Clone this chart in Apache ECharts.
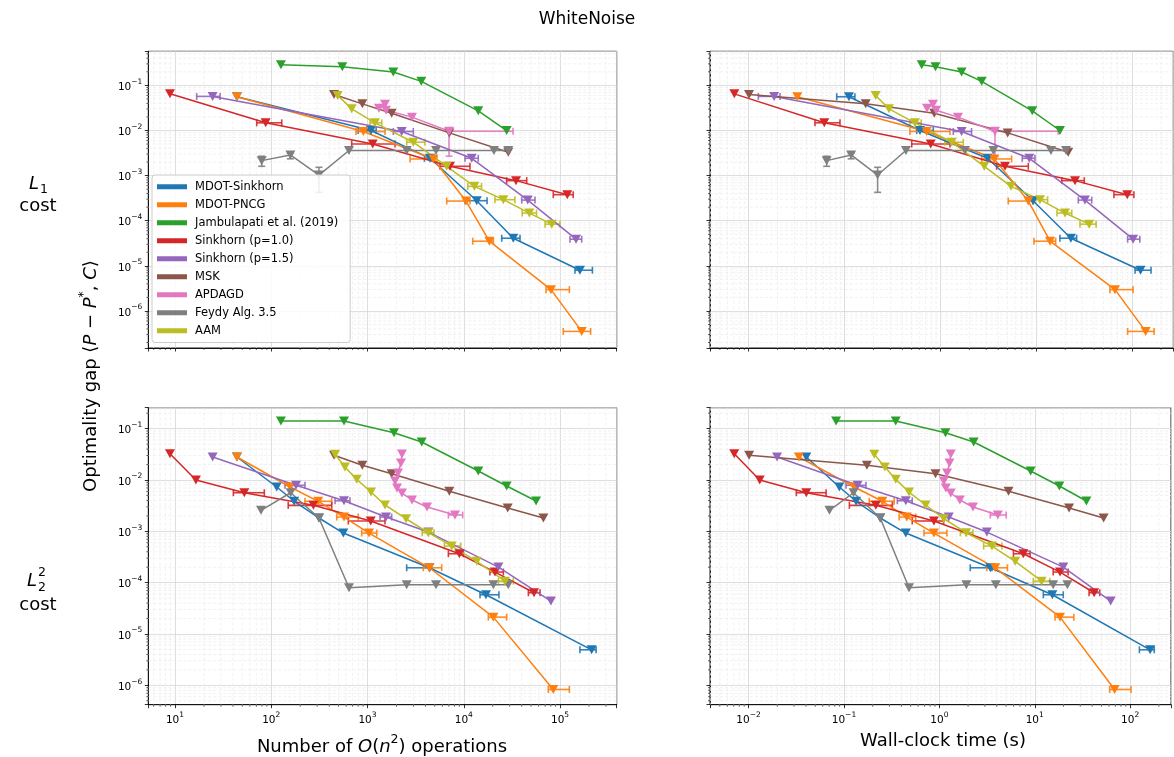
<!DOCTYPE html>
<html><head><meta charset="utf-8">
<script src="https://cdn.jsdelivr.net/npm/echarts@6/dist/echarts.min.js"></script>
<style>html,body{margin:0;padding:0;background:#fff}#c{width:1174px;height:757px}</style>
</head><body><div id="c"></div>
<script>
// ---------------- series meta ----------------
const seriesNames = ['MDOT-Sinkhorn','MDOT-PNCG','Jambulapati et al. (2019)','Sinkhorn (p=1.0)','Sinkhorn (p=1.5)','MSK','APDAGD','Feydy Alg. 3.5','AAM'];
const seriesColors = ['#1f77b4','#ff7f0e','#2ca02c','#d62728','#9467bd','#8c564b','#e377c2','#7f7f7f','#bcbd22'];

// ---------------- L1 cost: optimality gap (shared by both top panels) ----------------
const l1Gap_mdotSinkhorn = [0.056, 0.0100, 0.00242, 2.78e-4, 4.1e-5, 8.0e-6];
const l1Gap_mdotPNCG     = [0.056, 0.0095, 0.00234, 2.73e-4, 3.52e-5, 2.97e-6, 3.52e-7];
const l1Gap_jambulapati  = [0.287, 0.259, 0.198, 0.123, 0.0273, 0.0100];
const l1Gap_sinkhorn10   = [0.065, 0.0148, 0.00503, 0.00161, 7.74e-4, 3.78e-4];
const l1Gap_sinkhorn15   = [0.057, 0.0095, 0.00242, 2.87e-4, 3.9e-5];
const l1Gap_msk          = [0.063, 0.039, 0.0242, 0.00885, 0.0033];
const l1Gap_apdagd       = [0.0313, 0.0384, 0.0282, 0.0198, 0.00965];
const l1Gap_feydy        = [0.00215, 0.00287, 0.00103, 0.0036, 0.0036, 0.0036, 0.0036, 0.0036];
const l1Gap_aam          = [0.060, 0.0302, 0.0148, 0.0055, 0.00161, 5.78e-4, 2.93e-4, 1.48e-4, 8.4e-5];

// L1: number of O(n^2) operations
const l1Ops_mdotSinkhorn = [44, 1087, 4457, 13650, 32700, 161000];
const l1Ops_mdotPNCG     = [44, 904, 4830, 10540, 18440, 80500, 168000];
const l1Ops_jambulapati  = [126, 547, 1853, 3622, 14150, 27900];
const l1Ops_sinkhorn10   = [8.87, 87.5, 1132, 7190, 34900, 119000];
const l1Ops_sinkhorn15   = [24.6, 2265, 12100, 46200, 146600];
const l1Ops_msk          = [449, 883, 1783, 7080, 29000];
const l1Ops_apdagd       = [1315, 1520, 1557, 2898, 7030];
const l1Ops_feydy        = [79.6, 158, 313, 642, 2553, 5150, 20600, 29000];
const l1Ops_aam          = [490, 685, 1197, 2990, 6650, 12900, 25800, 48000, 82000];

// L1: wall-clock time (s)
const l1Time_mdotSinkhorn = [0.111, 0.611, 3.10, 9.23, 22.9, 122];
const l1Time_mdotPNCG     = [0.0321, 0.718, 3.64, 8.24, 13.9, 66.1, 138];
const l1Time_jambulapati  = [0.637, 0.887, 1.66, 2.69, 9.06, 17.6];
const l1Time_sinkhorn10   = [0.00708, 0.0614, 0.791, 4.71, 25.3, 88.7];
const l1Time_sinkhorn15   = [0.0184, 1.66, 8.44, 32.1, 102];
const l1Time_msk          = [0.01007, 0.166, 0.861, 5.02, 21.5];
const l1Time_apdagd       = [0.723, 0.835, 0.898, 1.52, 3.70];
const l1Time_feydy        = [0.065, 0.117, 0.221, 0.436, 1.80, 3.56, 14.2, 20.4];
const l1Time_aam          = [0.211, 0.290, 0.542, 1.31, 2.86, 5.43, 10.9, 19.9, 35.5];

// L1: horizontal error bars [low, high] (null = none)
const l1OpsErr_mdotSinkhorn = [null, [800, 1230], [3900, 4900], [10330, 17460], [24800, 38400], [143000, 217000]];
const l1OpsErr_mdotPNCG     = [null, [760, 1520], [2770, 5270], [6650, 11600], [12400, 20300], [71600, 125000], [108000, 208000]];
const l1OpsErr_sinkhorn10   = [null, [70.6, 128.5], [685, 1932], [5660, 11600], [27900, 45100], [85100, 137000]];
const l1OpsErr_sinkhorn15   = [[16.8, 29.4], [1853, 2990], [10300, 14150], [40000, 55000], [127000, 168000]];
const l1OpsErr_apdagd       = [null, null, null, null, [7030, 32500]];
const l1OpsErr_aam          = [null, null, [1062, 1406], [2553, 3953], null, [11000, 15300], [21100, 34000], [40500, 57000], [70000, 100000]];
const l1TimeErr_mdotSinkhorn = [[0.0828, 0.128], [0.565, 0.841], null, null, [17.6, 26.3], [107, 157]];
const l1TimeErr_mdotPNCG     = [null, [0.48, 1.256], [2.69, 5.52], [5.09, 9.29], [9.44, 15.9], [58.5, 102], [89.5, 169]];
const l1TimeErr_sinkhorn10   = [null, [0.0491, 0.0895], [0.501, 1.256], [3.85, 8.24], [18.4, 31.6], [64.4, 104]];
const l1TimeErr_sinkhorn15   = [[0.0126, 0.0212], [1.36, 2.11], [7.13, 9.66], [27.4, 37.8], [89.5, 120]];
const l1TimeErr_apdagd       = [null, null, null, null, [3.70, 16.9]];
const l1TimeErr_aam          = [null, null, [0.48, 0.63], [1.11, 1.73], null, null, [9.66, 13.1], [16.4, 23.4], [28.5, 42]];
// L1: vertical error bars on the gap
const l1GapErr_apdagd = [null, null, null, null, [0.0027, 0.00965]];
const l1GapErr_feydy  = [[0.00161, 0.00269], [0.00236, 0.0032], [4.26e-4, 0.00153], null, null, null, null, null];

// ---------------- L2^2 cost: optimality gap (shared by both bottom panels) ----------------
const l2Gap_mdotSinkhorn = [0.0281, 0.00731, 0.00385, 0.00182, 9.26e-4, 1.95e-4, 5.81e-5, 4.92e-6];
const l2Gap_mdotPNCG     = [0.0281, 0.00731, 0.00385, 0.0019, 9.26e-4, 1.95e-4, 2.13e-5, 8.3e-7];
const l2Gap_jambulapati  = [0.141, 0.141, 0.0836, 0.055, 0.015, 0.00764, 0.0039];
const l2Gap_sinkhorn10   = [0.0326, 0.0100, 0.00565, 0.00321, 0.00159, 3.66e-4, 1.61e-4, 6.36e-5];
const l2Gap_sinkhorn15   = [0.0281, 0.00789, 0.00394, 0.0019, 9.68e-4, 2.01e-4, 4.38e-5];
const l2Gap_msk          = [0.0303, 0.0194, 0.0133, 0.00603, 0.00285, 0.00182];
const l2Gap_apdagd       = [0.0321, 0.0214, 0.0137, 0.00957, 0.00698, 0.00558, 0.00408, 0.00298, 0.00208];
const l2Gap_feydy        = [0.00257, 0.00565, 0.00182, 7.96e-5, 9.1e-5, 9.1e-5, 9.1e-5, 9.1e-5];
const l2Gap_aam          = [0.0317, 0.0179, 0.0103, 0.00583, 0.00326, 0.00176, 9.4e-4, 5.17e-4, 2.6e-4, 1.07e-4];

// L2^2: number of O(n^2) operations
const l2Ops_mdotSinkhorn = [44, 114, 173, 313, 561, 4390, 17000, 213000];
const l2Ops_mdotPNCG     = [44, 157, 308, 570, 1037, 4390, 20300, 85100];
const l2Ops_jambulapati  = [126, 570, 1884, 3656, 14150, 27900, 56400];
const l2Ops_sinkhorn10   = [8.87, 16.5, 52.5, 274, 1080, 9000, 21100, 53700];
const l2Ops_sinkhorn15   = [24.6, 181, 570, 1557, 4285, 22900, 80500];
const l2Ops_msk          = [449, 883, 1783, 7080, 28600, 67200];
const l2Ops_apdagd       = [2280, 2228, 2074, 1932, 2027, 2280, 2898, 4150, 8110];
const l2Ops_feydy        = [78.3, 159, 313, 642, 2553, 5150, 20300, 29000];
const l2Ops_aam          = [460, 583, 773, 1087, 1520, 2512, 4285, 7500, 13650, 26800];

// L2^2: wall-clock time (s)
const l2Time_mdotSinkhorn = [0.0403, 0.0895, 0.134, 0.240, 0.445, 3.42, 15.3, 162];
const l2Time_mdotPNCG     = [0.0337, 0.128, 0.253, 0.455, 0.877, 3.85, 18.4, 68.7];
const l2Time_jambulapati  = [0.0828, 0.349, 1.16, 2.29, 9.06, 18.1, 34.8];
const l2Time_sinkhorn10   = [0.00708, 0.0131, 0.0403, 0.216, 0.877, 7.6, 18.4, 41.9];
const l2Time_sinkhorn15   = [0.0199, 0.139, 0.445, 1.256, 3.15, 19.9, 62.5];
const l2Time_msk          = [0.01014, 0.174, 0.912, 5.31, 22.9, 52.7];
const l2Time_apdagd       = [1.318, 1.277, 1.205, 1.114, 1.169, 1.318, 1.64, 2.25, 4.10];
const l2Time_feydy        = [0.0705, 0.126, 0.240, 0.481, 1.92, 3.91, 15.6, 22];
const l2Time_aam          = [0.208, 0.268, 0.349, 0.481, 0.718, 1.114, 1.91, 3.56, 6.24, 11.8];

// L2^2: horizontal error bars
const l2OpsErr_mdotSinkhorn = [null, null, null, null, null, [2553, 4457], [14750, 23200], [161000, 237000]];
const l2OpsErr_mdotPNCG     = [null, null, [224, 425], [479, 802], [870, 1247], [3800, 5900], [18000, 27900], [75500, 125000]];
const l2OpsErr_sinkhorn10   = [null, null, [40.4, 84.7], [150, 425], [632, 1520], [6920, 9890], [18700, 25800], [46900, 62000]];
const l2OpsErr_sinkhorn15   = [null, [139, 224], [460, 657], [1349, 1783], null, null, null];
const l2OpsErr_apdagd       = [null, null, null, null, null, null, null, null, [6920, 9750]];
const l2OpsErr_aam          = [null, null, null, null, null, null, [3700, 4900], [6300, 9300], null, [22900, 32700]];
const l2TimeErr_mdotSinkhorn = [null, null, null, null, null, [2.11, 3.56], [12.3, 19.9], [125, 179]];
const l2TimeErr_mdotPNCG     = [null, null, [0.184, 0.336], [0.379, 0.565], [0.69, 1.2], [3.15, 5.18], [16.3, 25.7], [61, 102]];
const l2TimeErr_sinkhorn10   = [null, null, [0.0317, 0.065], [0.114, 0.322], [0.52, 1.11], [5.98, 8.93], [15.6, 22.4], [37.1, 48]];
const l2TimeErr_sinkhorn15   = [null, [0.105, 0.170], [0.363, 0.52], null, null, null, null];
const l2TimeErr_apdagd       = [null, null, null, null, null, null, null, null, [3.42, 5.02]];
const l2TimeErr_aam          = [null, null, null, null, null, null, [1.66, 2.25], [2.91, 4.52], null, [9.66, 14.4]];

// ---------------- axis ranges ----------------
const opsRange  = [5.28, 388000];
const timeRange = [0.003945, 268];
const l1Range   = [1.51e-7, 0.570];
const l2Range   = [4.19e-7, 0.2565];

// ---------------- tables built from the arrays ----------------
const l1GapTable  = [l1Gap_mdotSinkhorn, l1Gap_mdotPNCG, l1Gap_jambulapati, l1Gap_sinkhorn10, l1Gap_sinkhorn15, l1Gap_msk, l1Gap_apdagd, l1Gap_feydy, l1Gap_aam];
const l1OpsTable  = [l1Ops_mdotSinkhorn, l1Ops_mdotPNCG, l1Ops_jambulapati, l1Ops_sinkhorn10, l1Ops_sinkhorn15, l1Ops_msk, l1Ops_apdagd, l1Ops_feydy, l1Ops_aam];
const l1TimeTable = [l1Time_mdotSinkhorn, l1Time_mdotPNCG, l1Time_jambulapati, l1Time_sinkhorn10, l1Time_sinkhorn15, l1Time_msk, l1Time_apdagd, l1Time_feydy, l1Time_aam];
const l1OpsErrTable  = [l1OpsErr_mdotSinkhorn, l1OpsErr_mdotPNCG, null, l1OpsErr_sinkhorn10, l1OpsErr_sinkhorn15, null, l1OpsErr_apdagd, null, l1OpsErr_aam];
const l1TimeErrTable = [l1TimeErr_mdotSinkhorn, l1TimeErr_mdotPNCG, null, l1TimeErr_sinkhorn10, l1TimeErr_sinkhorn15, null, l1TimeErr_apdagd, null, l1TimeErr_aam];
const l1GapErrTable  = [null, null, null, null, null, null, l1GapErr_apdagd, l1GapErr_feydy, null];
const l2GapTable  = [l2Gap_mdotSinkhorn, l2Gap_mdotPNCG, l2Gap_jambulapati, l2Gap_sinkhorn10, l2Gap_sinkhorn15, l2Gap_msk, l2Gap_apdagd, l2Gap_feydy, l2Gap_aam];
const l2OpsTable  = [l2Ops_mdotSinkhorn, l2Ops_mdotPNCG, l2Ops_jambulapati, l2Ops_sinkhorn10, l2Ops_sinkhorn15, l2Ops_msk, l2Ops_apdagd, l2Ops_feydy, l2Ops_aam];
const l2TimeTable = [l2Time_mdotSinkhorn, l2Time_mdotPNCG, l2Time_jambulapati, l2Time_sinkhorn10, l2Time_sinkhorn15, l2Time_msk, l2Time_apdagd, l2Time_feydy, l2Time_aam];
const l2OpsErrTable  = [l2OpsErr_mdotSinkhorn, l2OpsErr_mdotPNCG, null, l2OpsErr_sinkhorn10, l2OpsErr_sinkhorn15, null, l2OpsErr_apdagd, null, l2OpsErr_aam];
const l2TimeErrTable = [l2TimeErr_mdotSinkhorn, l2TimeErr_mdotPNCG, null, l2TimeErr_sinkhorn10, l2TimeErr_sinkhorn15, null, l2TimeErr_apdagd, null, l2TimeErr_aam];
const l2GapErrTable  = [null, null, null, null, null, null, null, null, null];

const panels = [
  {xs: l1OpsTable,  ys: l1GapTable, xe: l1OpsErrTable,  ye: l1GapErrTable, xr: opsRange,  yr: l1Range, xl: false, yl: true},
  {xs: l1TimeTable, ys: l1GapTable, xe: l1TimeErrTable, ye: l1GapErrTable, xr: timeRange, yr: l1Range, xl: false, yl: false},
  {xs: l2OpsTable,  ys: l2GapTable, xe: l2OpsErrTable,  ye: l2GapErrTable, xr: opsRange,  yr: l2Range, xl: true,  yl: true},
  {xs: l2TimeTable, ys: l2GapTable, xe: l2TimeErrTable, ye: l2GapErrTable, xr: timeRange, yr: l2Range, xl: true,  yl: false}
];
const gridBoxes = [
  {left: 148.3, top: 51.3, width: 468.4, height: 296.7},
  {left: 710,   top: 51.3, width: 463.3, height: 296.7},
  {left: 148.3, top: 407.7, width: 468.4, height: 297},
  {left: 710,   top: 407.7, width: 463.3, height: 297}
];

const FONT = 'DejaVu Sans';
function powLabel(v) {
  const e = Math.log10(v);
  const r = Math.round(e);
  if (Math.abs(e - r) > 1e-6) return '';
  return '{b|10}{s|' + String(r).replace('-', '\u2212') + '}';
}
const tickRich = {
  b: {fontSize: 10.5, fontFamily: FONT, color: '#000', lineHeight: 15, verticalAlign: 'bottom'},
  s: {fontSize: 7.5, fontFamily: FONT, color: '#000', lineHeight: 15, verticalAlign: 'top'}
};
function minorValues(r) {
  const out = [];
  for (let e = Math.floor(Math.log10(r[0])); e <= Math.ceil(Math.log10(r[1])); e++) {
    for (let k = 2; k <= 9; k++) {
      const v = k * Math.pow(10, e);
      if (v > r[0] && v < r[1]) out.push(v);
    }
  }
  return out;
}

const xAxes = [], yAxes = [], series = [];
panels.forEach((p, g) => {
  const common = {
    type: 'log', logBase: 10, gridIndex: g,
    axisLine: {show: true, lineStyle: {color: '#000', width: 0.9}},
    axisTick: {show: true, inside: false, length: 3.5, lineStyle: {color: '#000', width: 0.8}},
    splitLine: {show: true, lineStyle: {color: '#d6d6d6', width: 0.8}},
    minorTick: {show: false}, minorSplitLine: {show: false}
  };
  xAxes.push(Object.assign({}, common, {
    min: p.xr[0], max: p.xr[1],
    axisLabel: {show: p.xl, formatter: powLabel, rich: tickRich, margin: 6}
  }));
  yAxes.push(Object.assign({}, common, {
    min: p.yr[0], max: p.yr[1],
    axisLabel: {show: p.yl, formatter: powLabel, rich: tickRich, margin: 6, align: 'right'}
  }));
  // minor grid lines and minor ticks (axis decoration)
  const mx = minorValues(p.xr), my = minorValues(p.yr);
  series.push({
    type: 'custom', xAxisIndex: g, yAxisIndex: g, silent: true, z: 1,
    data: [[p.xr[0], p.yr[0]]],
    renderItem: (params, api) => {
      const cs = params.coordSys;
      const ch = [];
      const gl = {stroke: '#ebebeb', lineWidth: 0.7, lineDash: [3, 2]};
      const tk = {stroke: '#000', lineWidth: 0.6};
      mx.forEach(v => {
        const px = api.coord([v, p.yr[0]])[0];
        ch.push({type: 'line', shape: {x1: px, y1: cs.y, x2: px, y2: cs.y + cs.height}, style: gl});
        ch.push({type: 'line', shape: {x1: px, y1: cs.y + cs.height, x2: px, y2: cs.y + cs.height + 2}, style: tk});
      });
      my.forEach(v => {
        const py = api.coord([p.xr[0], v])[1];
        ch.push({type: 'line', shape: {x1: cs.x, y1: py, x2: cs.x + cs.width, y2: py}, style: gl});
        ch.push({type: 'line', shape: {x1: cs.x - 2, y1: py, x2: cs.x, y2: py}, style: tk});
      });
      return {type: 'group', children: ch};
    }
  });
  seriesNames.forEach((name, i) => {
    const xs = p.xs[i], ys = p.ys[i];
    const color = seriesColors[i];
    const xe = p.xe[i] || [], ye = p.ye[i] || [];
    const errData = [];
    xs.forEach((x, k) => {
      const y = ys[k];
      const a = xe[k], b = ye[k];
      if (a || b) errData.push([x, y, a ? a[0] : x, a ? a[1] : x, b ? b[0] : y, b ? b[1] : y]);
    });
    if (errData.length) {
      series.push({
        type: 'custom', xAxisIndex: g, yAxisIndex: g, silent: true, z: 2,
        itemStyle: {color: color},
        data: errData,
        renderItem: (params, api) => {
          const x = api.value(0), y = api.value(1);
          const xl = api.value(2), xh = api.value(3), yl = api.value(4), yh = api.value(5);
          const st = {stroke: color, lineWidth: 1.6, opacity: 0.9};
          const ch = [];
          const cap = 3.5;
          if (xl !== x || xh !== x) {
            const A = api.coord([xl, y]), B = api.coord([xh, y]);
            ch.push({type: 'line', shape: {x1: A[0], y1: A[1], x2: B[0], y2: B[1]}, style: st});
            ch.push({type: 'line', shape: {x1: A[0], y1: A[1] - cap, x2: A[0], y2: A[1] + cap}, style: st});
            ch.push({type: 'line', shape: {x1: B[0], y1: B[1] - cap, x2: B[0], y2: B[1] + cap}, style: st});
          }
          if (yl !== y || yh !== y) {
            const A = api.coord([x, yl]), B = api.coord([x, yh]);
            ch.push({type: 'line', shape: {x1: A[0], y1: A[1], x2: B[0], y2: B[1]}, style: st});
            ch.push({type: 'line', shape: {x1: A[0] - cap, y1: A[1], x2: A[0] + cap, y2: A[1]}, style: st});
            ch.push({type: 'line', shape: {x1: B[0] - cap, y1: B[1], x2: B[0] + cap, y2: B[1]}, style: st});
          }
          return {type: 'group', children: ch};
        }
      });
    }
    series.push({
      type: 'line', name: name, xAxisIndex: g, yAxisIndex: g, z: 3,
      color: color,
      data: xs.map((x, k) => [x, ys[k]]),
      symbol: 'triangle', symbolRotate: 180, symbolSize: [10, 9],
      lineStyle: {color: color, width: 1.5},
      itemStyle: {color: color},
      emphasis: {disabled: true}
    });
  });
});

const it = {fontStyle: 'italic', fontFamily: FONT, fontSize: 18, lineHeight: 23, verticalAlign: 'bottom'};
const rm = {fontFamily: FONT, fontSize: 18, lineHeight: 23, verticalAlign: 'bottom'};
const sp = {fontFamily: FONT, fontSize: 12.5, lineHeight: 23, verticalAlign: 'top'};

const option = {
  animation: false,
  backgroundColor: '#fff',
  textStyle: {fontFamily: FONT},
  grid: gridBoxes.map(b => Object.assign({show: true, borderColor: '#000', borderWidth: 0.9, backgroundColor: 'rgba(0,0,0,0)', containLabel: false}, b)),
  xAxis: xAxes,
  yAxis: yAxes,
  legend: {
    orient: 'vertical', left: 152, top: 175,
    data: seriesNames.map(n => ({name: n, icon: 'rect'})),
    itemWidth: 30, itemHeight: 5, itemGap: 4.5,
    textStyle: {fontSize: 11.5, fontFamily: FONT, color: '#000', lineHeight: 13.5, padding: [0, 0, 0, 3]},
    backgroundColor: 'rgba(255,255,255,0.85)', borderColor: '#cccccc', borderWidth: 1, borderRadius: 3,
    padding: [5, 12, 5, 5],
    selectedMode: false
  },
  graphic: [
    {type: 'text', x: 587, y: 20, style: {text: 'WhiteNoise', fontFamily: FONT, fontSize: 17, fill: '#000', align: 'center', verticalAlign: 'middle'}},
    {type: 'text', x: 89, y: 376, rotation: Math.PI / 2, style: {
      text: '{r|Optimality gap \u27e8}{i|P}{r| \u2212 }{i|P}{s|*}{r|, }{i|C}{r|\u27e9}',
      rich: {r: rm, i: it, s: sp}, fill: '#000', align: 'center', verticalAlign: 'middle'}},
    {type: 'text', x: 382, y: 745, style: {
      text: '{r|Number of }{i|O}{r|(}{i|n}{s|2}{r|) operations}',
      rich: {r: rm, i: it, s: sp}, fill: '#000', align: 'center', verticalAlign: 'middle'}},
    {type: 'text', x: 943, y: 741, style: {text: 'Wall-clock time (s)', fontFamily: FONT, fontSize: 18, fill: '#000', align: 'center', verticalAlign: 'middle'}},
    // row labels
    {type: 'text', x: 34, y: 184, style: {text: 'L', fontFamily: FONT, fontStyle: 'italic', fontSize: 18, fill: '#000', align: 'center', verticalAlign: 'middle'}},
    {type: 'text', x: 44, y: 190, style: {text: '1', fontFamily: FONT, fontSize: 12.5, fill: '#000', align: 'center', verticalAlign: 'middle'}},
    {type: 'text', x: 38, y: 206, style: {text: 'cost', fontFamily: FONT, fontSize: 18, fill: '#000', align: 'center', verticalAlign: 'middle'}},
    {type: 'text', x: 32, y: 581, style: {text: 'L', fontFamily: FONT, fontStyle: 'italic', fontSize: 18, fill: '#000', align: 'center', verticalAlign: 'middle'}},
    {type: 'text', x: 42, y: 573, style: {text: '2', fontFamily: FONT, fontSize: 12.5, fill: '#000', align: 'center', verticalAlign: 'middle'}},
    {type: 'text', x: 42, y: 588, style: {text: '2', fontFamily: FONT, fontSize: 12.5, fill: '#000', align: 'center', verticalAlign: 'middle'}},
    {type: 'text', x: 38, y: 605, style: {text: 'cost', fontFamily: FONT, fontSize: 18, fill: '#000', align: 'center', verticalAlign: 'middle'}}
  ],
  series: series
};

const chart = echarts.init(document.getElementById('c'), null, {renderer: 'canvas'});
chart.setOption(option);
</script>
</body></html>
